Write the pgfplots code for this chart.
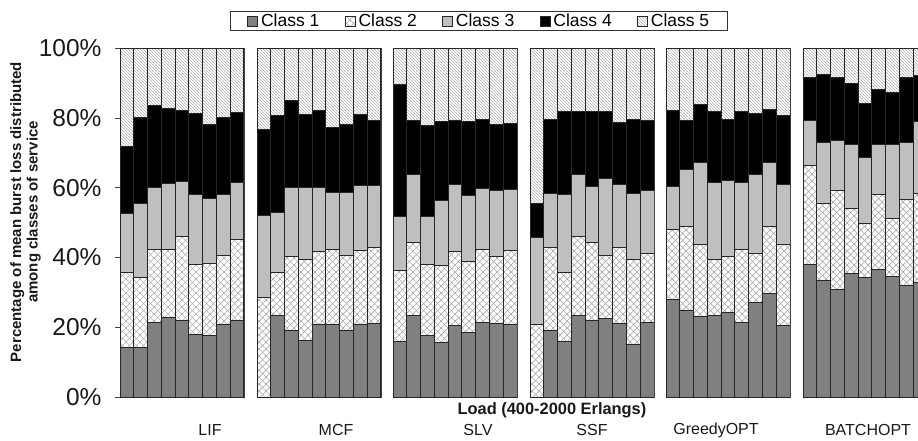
\documentclass[border=0pt]{standalone}
\usepackage{pgfplots}
\pgfplotsset{compat=1.18}
\usepackage{pgfplotstable}
\usepackage{fontspec}
\setmainfont{Liberation Sans}
\usetikzlibrary{patterns}

\pgfdeclarepatternformonly{diamondhatch}{\pgfqpoint{-1pt}{-1pt}}{\pgfqpoint{8pt}{8pt}}{\pgfqpoint{7pt}{7pt}}{%
  \pgfsetlinewidth{0.7pt}%
  \pgfpathmoveto{\pgfqpoint{-1pt}{-1pt}}\pgfpathlineto{\pgfqpoint{8pt}{8pt}}%
  \pgfpathmoveto{\pgfqpoint{-1pt}{8pt}}\pgfpathlineto{\pgfqpoint{8pt}{-1pt}}%
  \pgfusepath{stroke}}
\pgfdeclarepatternformonly{finestripes}{\pgfqpoint{-1pt}{-1pt}}{\pgfqpoint{4pt}{4pt}}{\pgfqpoint{3pt}{3pt}}{%
  \pgfsetlinewidth{0.55pt}%
  \pgfpathmoveto{\pgfqpoint{-1pt}{4pt}}\pgfpathlineto{\pgfqpoint{4pt}{-1pt}}%
  \pgfusepath{stroke}}

\pgfplotstableread{
x c1 c2 c3 c4 c5
1 14.2 21.5 16.8 19.3 28.2
2 14.2 20.0 21.2 24.7 19.9
3 21.4 21.0 17.6 23.6 16.4
4 22.8 19.6 18.7 21.7 17.2
5 21.9 24.1 15.8 20.3 17.9
6 18.0 19.9 20.2 23.3 18.6
7 17.6 20.7 18.5 21.3 21.9
8 20.8 19.9 17.4 22.1 19.8
9 21.9 23.3 16.3 20.1 18.4
}\tabLIF
\pgfplotstableread{
x c1 c2 c3 c4 c5
1 0.0 28.6 23.4 24.6 23.4
2 23.4 12.4 17.2 27.6 19.4
3 19.1 21.1 19.8 25.0 15.0
4 16.3 23.0 20.7 20.9 19.1
5 20.9 20.8 18.3 22.3 17.7
6 20.7 21.7 16.3 18.6 22.7
7 19.1 21.6 18.0 19.4 21.9
8 20.9 21.1 18.6 20.3 19.1
9 21.2 21.7 17.7 18.7 20.7
}\tabMCF
\pgfplotstableread{
x c1 c2 c3 c4 c5
1 15.8 20.4 15.5 37.8 10.5
2 23.4 21.0 19.5 15.3 20.8
3 17.7 20.3 13.9 26.1 22.0
4 15.6 22.1 18.6 22.7 21.0
5 20.5 21.2 19.1 18.5 20.7
6 18.6 20.4 18.7 21.4 20.9
7 21.4 21.0 17.5 19.7 20.4
8 21.1 19.3 18.8 19.0 21.8
9 20.9 21.1 17.6 18.9 21.5
}\tabSLV
\pgfplotstableread{
x c1 c2 c3 c4 c5
1 0.0 20.8 25.0 9.7 44.5
2 19.2 23.6 15.6 21.3 20.3
3 16.0 19.8 22.3 23.7 18.2
4 23.3 22.7 17.7 18.1 18.2
5 21.9 22.4 16.2 21.3 18.2
6 22.6 18.1 22.0 19.1 18.2
7 21.1 21.7 18.0 18.0 21.2
8 15.2 24.1 19.1 21.2 20.4
9 21.3 19.9 18.0 20.0 20.8
}\tabSSF
\pgfplotstableread{
x c1 c2 c3 c4 c5
1 28.1 20.0 12.4 21.6 17.9
2 24.7 24.3 16.1 14.2 20.7
3 23.2 20.4 23.6 16.7 16.1
4 23.4 15.9 22.3 20.2 18.2
5 24.2 16.0 21.8 17.7 20.3
6 21.3 21.1 19.2 20.2 18.2
7 27.2 14.0 22.5 17.7 18.6
8 29.8 19.1 18.3 15.3 17.5
9 20.5 23.1 17.2 19.8 19.4
}\tabGREEDY
\pgfplotstableread{
x c1 c2 c3 c4 c5
1 38.0 28.3 12.9 12.5 8.3
2 33.3 22.2 17.5 19.5 7.5
3 30.7 28.4 14.4 18.1 8.4
4 35.3 18.8 18.2 17.5 10.2
5 34.2 15.6 18.9 15.5 15.8
6 36.6 21.6 14.1 16.0 11.7
7 34.5 16.6 21.2 15.1 12.6
8 32.1 24.6 16.3 18.7 8.3
9 32.9 25.5 20.6 13.1 7.9
}\tabBATCH

\tikzset{
  cls1/.style={fill=black!50, draw=black!85, line width=1pt},
  cls2/.style={pattern=diamondhatch, pattern color=black!30, draw=black!85, line width=1pt},
  cls3/.style={fill=black!25, draw=black!85, line width=1pt},
  cls4/.style={fill=black, draw=black!85, line width=1pt},
  cls5/.style={pattern=finestripes, pattern color=black!28, draw=black!85, line width=1pt},
}

\pgfplotsset{
  grp/.style={
    scale only axis, width=124pt, height=348.7pt,
    anchor=south west,
    ymin=0, ymax=100, xmin=0.5, xmax=9.5,
    ybar stacked, bar width=1,
    xtick=\empty, ytick=\empty,
    axis line style={draw=black!75, line width=0.9pt},
  },
}

\newcommand{\groupbars}[1]{%
  \addplot[cls1] table[x=x,y=c1]{#1};
  \addplot[cls2] table[x=x,y=c2]{#1};
  \addplot[cls3] table[x=x,y=c3]{#1};
  \addplot[cls4] table[x=x,y=c4]{#1};
  \addplot[cls5] table[x=x,y=c5]{#1};
}

\begin{document}
\begin{tikzpicture}
\path[use as bounding box] (0pt,0pt) rectangle (918pt,440pt);
\begin{scope}
\clip (0pt,0pt) rectangle (918pt,440pt);

\begin{axis}[grp, at={(120pt,43pt)},
  ytick={0,20,40,60,80,100},
  yticklabels={0\%,20\%,40\%,60\%,80\%,100\%},
  ytick pos=left, tick align=outside, major tick length=5pt,
  tick style={draw=black!75, line width=0.9pt},
  yticklabel style={font=\fontsize{24.5}{26}\selectfont, text=black!90, xshift=-10pt},
  legend columns=5,
  legend image code/.code={\draw[#1, line width=0.6pt] (0pt,-5pt) rectangle (10pt,5pt);},
  legend style={at={(2.896,1.078)}, anchor=center, draw=black!80, line width=0.9pt,
    font=\fontsize{17.5}{19}\selectfont, column sep=1.5pt, inner xsep=17pt, inner ysep=1pt,
    nodes={inner sep=1.5pt},
    /tikz/every even column/.append style={column sep=24pt}},
]
\groupbars{\tabLIF}
\legend{Class 1,Class 2,Class 3,Class 4,Class 5}
\end{axis}

\begin{axis}[grp, at={(257pt,43pt)}]
\groupbars{\tabMCF}
\end{axis}
\begin{axis}[grp, at={(393pt,43pt)}]
\groupbars{\tabSLV}
\end{axis}
\begin{axis}[grp, at={(530pt,43pt)}]
\groupbars{\tabSSF}
\end{axis}
\begin{axis}[grp, at={(666pt,43pt)}]
\groupbars{\tabGREEDY}
\end{axis}
\begin{axis}[grp, at={(803pt,43pt)}]
\groupbars{\tabBATCH}
\end{axis}

\node[rotate=90, align=center, font=\bfseries\fontsize{15}{16.5}\selectfont, text=black!90]
  at (25.5pt,228pt) {Percentage of mean burst loss distributed\\among classes of service};
\node[font=\bfseries\fontsize{16.4}{18}\selectfont, text=black!90] at (552pt,30pt) {Load (400-2000 Erlangs)};
\node[font=\fontsize{16}{18}\selectfont, text=black!90] at (210pt,10pt) {LIF};
\node[font=\fontsize{16}{18}\selectfont, text=black!90] at (336pt,10pt) {MCF};
\node[font=\fontsize{16}{18}\selectfont, text=black!90] at (478pt,10pt) {SLV};
\node[font=\fontsize{16}{18}\selectfont, text=black!90] at (592pt,10pt) {SSF};
\node[font=\fontsize{16}{18}\selectfont, text=black!90] at (716pt,10pt) {GreedyOPT};
\node[font=\fontsize{16}{18}\selectfont, text=black!90] at (868pt,10pt) {BATCHOPT};
\end{scope}
\end{tikzpicture}
\end{document}
